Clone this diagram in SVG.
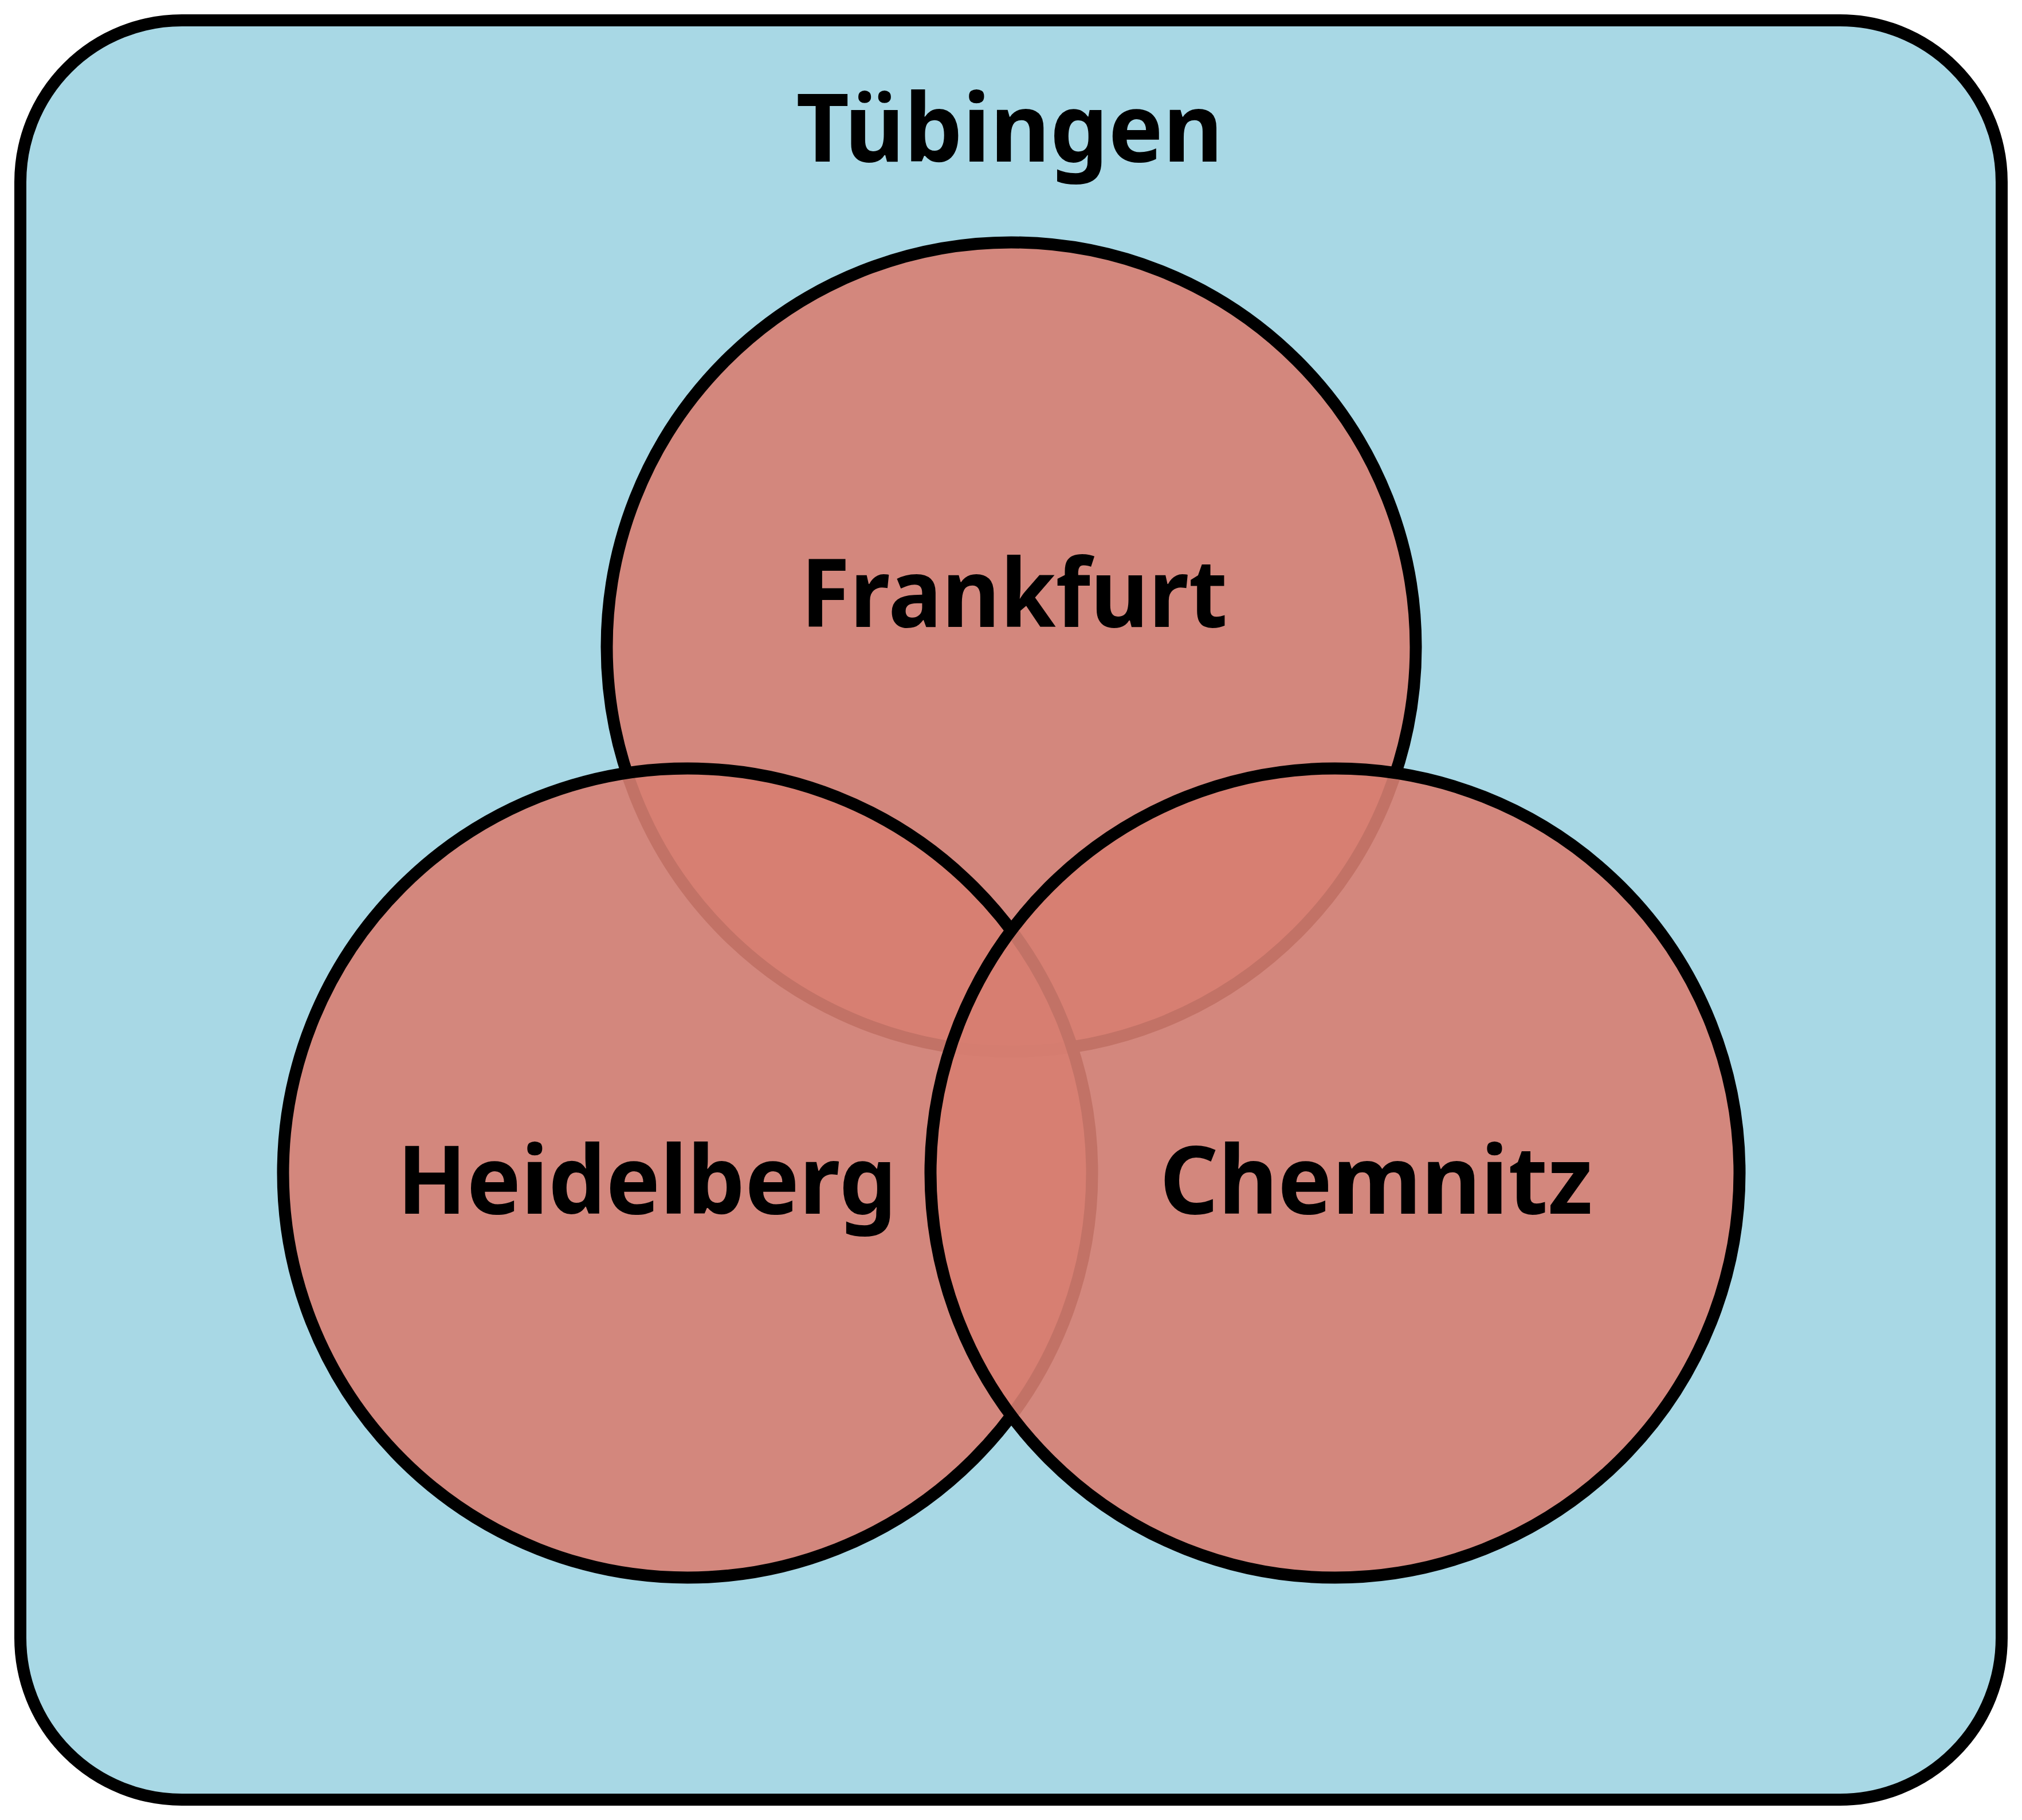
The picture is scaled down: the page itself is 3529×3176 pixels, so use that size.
<svg xmlns="http://www.w3.org/2000/svg" width="3529" height="3176" viewBox="0 0 3529 3176">
<style>
.frame{fill:#A8D8E5;stroke:#000;stroke-width:21}
.set{fill:#D77E71;fill-opacity:0.9;stroke:#000;stroke-width:21}
.lbl{font-family:"Noto Sans","Open Sans","Liberation Sans",sans-serif;font-weight:bold;font-size:165px;fill:#000;text-anchor:middle}
</style>
<rect width="3529" height="3176" fill="#fff"/>
<g id="tuebingen">
<rect class="frame" x="35.5" y="35.5" width="3458" height="3105" rx="282" ry="282"/>
<text class="lbl" x="1762" y="282" textLength="745" lengthAdjust="spacingAndGlyphs">Tübingen</text>
</g>
<g id="frankfurt">
<circle class="set" cx="1765" cy="1129" r="706"/>
</g>
<g id="heidelberg">
<circle class="set" cx="1200" cy="2047" r="706"/>
</g>
<g id="chemnitz">
<circle class="set" cx="2330" cy="2047" r="706"/>
</g>
<g id="labels">
<text class="lbl" x="1770" y="1094" textLength="745" lengthAdjust="spacingAndGlyphs">Frankfurt</text>
<text class="lbl" x="1129" y="2118" textLength="872" lengthAdjust="spacingAndGlyphs">Heidelberg</text>
<text class="lbl" x="2402" y="2118" textLength="756" lengthAdjust="spacingAndGlyphs">Chemnitz</text>
</g>
</svg>
